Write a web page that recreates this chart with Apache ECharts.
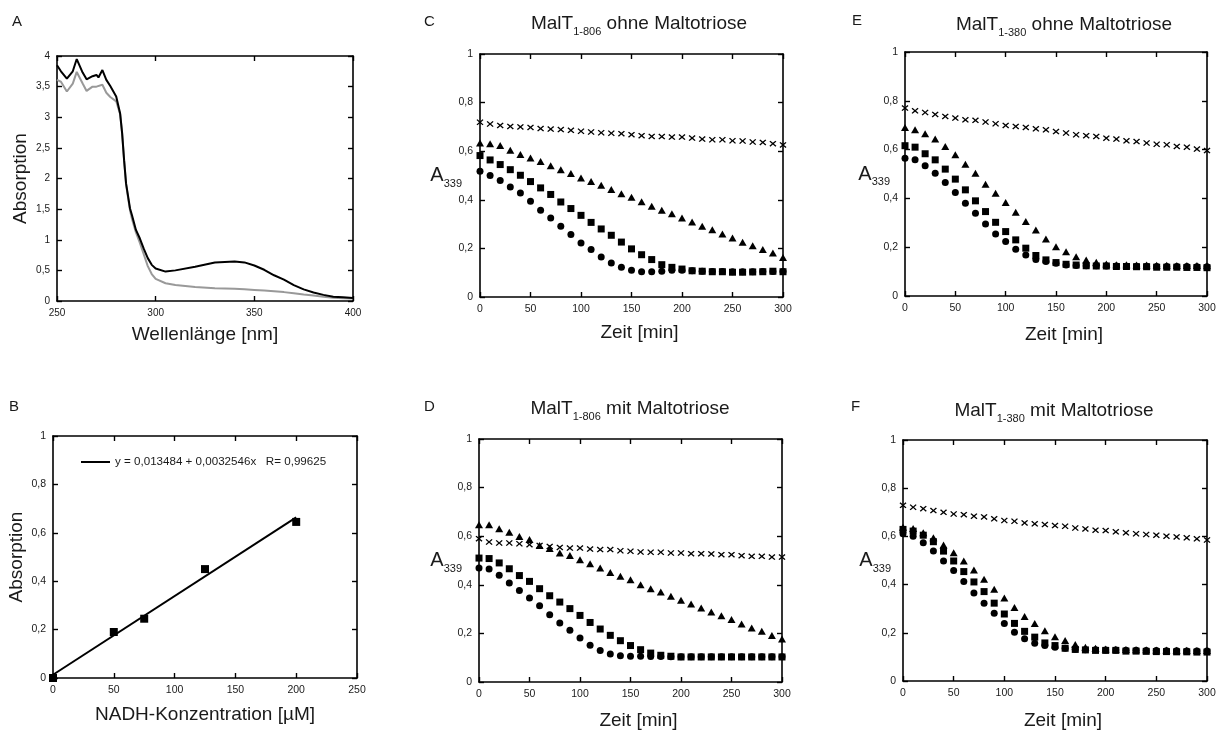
<!DOCTYPE html>
<html>
<head>
<meta charset="utf-8">
<script src="https://cdn.jsdelivr.net/npm/echarts@6/dist/echarts.min.js"></script>
<style>html,body{margin:0;padding:0;background:#fff}#c{width:1222px;height:731px}</style>
</head>
<body>
<div id="c"></div>
<script>
// ---------- Panel A: spectra ----------
const wavelengths = [250,252,255,258,260,263,265,268,270,271,273,275,277,280,282,283,284,285,287,288,290,292,294,296,298,300,305,310,320,330,340,345,350,355,360,365,370,375,380,385,390,395,400];
const absBlack = [3.85,3.75,3.63,3.75,3.95,3.73,3.62,3.67,3.69,3.65,3.77,3.61,3.51,3.34,3.06,2.74,2.30,1.92,1.51,1.40,1.16,1.02,0.85,0.70,0.59,0.53,0.48,0.50,0.56,0.63,0.645,0.63,0.58,0.51,0.42,0.35,0.26,0.19,0.14,0.10,0.07,0.06,0.05];
const absGray  = [3.61,3.58,3.42,3.55,3.74,3.55,3.43,3.50,3.50,3.49,3.53,3.40,3.33,3.26,3.05,2.74,2.30,1.90,1.48,1.34,1.12,0.95,0.76,0.57,0.44,0.36,0.29,0.26,0.23,0.21,0.20,0.19,0.18,0.17,0.16,0.145,0.125,0.105,0.09,0.07,0.055,0.045,0.04];

// ---------- Panel B: calibration ----------
const nadhConc = [0,50,75,125,200];
const nadhAbs  = [0,0.19,0.245,0.45,0.645];
const fitX = [0,200];
const fitY = [0.0135,0.664];
const fitLabel = 'y = 0,013484 + 0,0032546x   R= 0,99625';

// ---------- Panels C-F: time courses ----------
const times = [0,10,20,30,40,50,60,70,80,90,100,110,120,130,140,150,160,170,180,190,200,210,220,230,240,250,260,270,280,290,300];

const C_cross = [0.719,0.712,0.706,0.702,0.700,0.698,0.693,0.691,0.689,0.686,0.682,0.679,0.676,0.674,0.672,0.668,0.664,0.661,0.660,0.658,0.658,0.654,0.650,0.647,0.647,0.643,0.642,0.638,0.636,0.631,0.626];
const C_tri   = [0.634,0.631,0.623,0.604,0.586,0.572,0.558,0.540,0.524,0.508,0.490,0.475,0.460,0.442,0.425,0.410,0.392,0.373,0.357,0.343,0.325,0.309,0.291,0.277,0.259,0.243,0.225,0.211,0.195,0.181,0.163];
const C_sq    = [0.582,0.564,0.545,0.524,0.501,0.475,0.449,0.422,0.391,0.364,0.336,0.307,0.280,0.254,0.226,0.198,0.174,0.154,0.133,0.122,0.115,0.108,0.106,0.104,0.104,0.102,0.102,0.103,0.104,0.106,0.104];
const C_circ  = [0.517,0.500,0.479,0.453,0.428,0.394,0.357,0.325,0.291,0.257,0.222,0.195,0.165,0.140,0.122,0.110,0.104,0.104,0.106,0.110,0.110,0.108,0.106,0.105,0.105,0.104,0.104,0.104,0.105,0.105,0.105];

const D_cross = [0.590,0.576,0.572,0.572,0.569,0.565,0.562,0.558,0.554,0.551,0.551,0.547,0.545,0.545,0.540,0.538,0.535,0.534,0.534,0.531,0.531,0.528,0.528,0.527,0.524,0.524,0.520,0.517,0.517,0.514,0.514];
const D_tri   = [0.647,0.647,0.631,0.616,0.599,0.586,0.562,0.549,0.531,0.521,0.503,0.487,0.469,0.451,0.435,0.421,0.400,0.384,0.370,0.353,0.336,0.321,0.305,0.288,0.273,0.257,0.239,0.222,0.209,0.191,0.177];
const D_sq    = [0.510,0.508,0.490,0.466,0.438,0.414,0.384,0.355,0.329,0.302,0.274,0.245,0.218,0.192,0.170,0.150,0.133,0.119,0.110,0.106,0.103,0.103,0.103,0.103,0.103,0.103,0.103,0.103,0.103,0.103,0.103];
const D_circ  = [0.469,0.465,0.439,0.407,0.377,0.346,0.314,0.277,0.243,0.213,0.181,0.151,0.130,0.115,0.108,0.106,0.106,0.105,0.105,0.104,0.104,0.104,0.104,0.104,0.104,0.104,0.104,0.104,0.104,0.104,0.104];

const E_cross = [0.770,0.759,0.752,0.744,0.736,0.729,0.722,0.720,0.713,0.706,0.699,0.695,0.691,0.685,0.681,0.674,0.668,0.661,0.657,0.654,0.647,0.643,0.636,0.633,0.627,0.622,0.620,0.613,0.610,0.602,0.596];
const E_tri   = [0.691,0.681,0.665,0.643,0.613,0.579,0.540,0.503,0.458,0.421,0.383,0.343,0.305,0.271,0.234,0.202,0.181,0.161,0.148,0.138,0.131,0.128,0.128,0.127,0.127,0.126,0.126,0.125,0.125,0.125,0.124];
const E_sq    = [0.616,0.610,0.583,0.558,0.520,0.479,0.435,0.390,0.346,0.302,0.264,0.230,0.196,0.166,0.148,0.137,0.130,0.127,0.124,0.123,0.123,0.121,0.121,0.120,0.120,0.118,0.118,0.118,0.117,0.117,0.116];
const E_circ  = [0.565,0.558,0.534,0.503,0.465,0.424,0.380,0.339,0.295,0.254,0.223,0.192,0.168,0.150,0.141,0.134,0.127,0.125,0.124,0.124,0.123,0.123,0.122,0.122,0.122,0.121,0.121,0.121,0.121,0.120,0.120];

const F_cross = [0.729,0.721,0.715,0.707,0.700,0.693,0.690,0.684,0.681,0.673,0.666,0.663,0.656,0.652,0.649,0.645,0.642,0.635,0.631,0.626,0.624,0.619,0.615,0.611,0.608,0.605,0.601,0.598,0.594,0.590,0.585];
const F_tri   = [0.638,0.633,0.615,0.594,0.564,0.532,0.498,0.461,0.422,0.381,0.344,0.305,0.268,0.239,0.209,0.184,0.168,0.151,0.140,0.136,0.133,0.132,0.131,0.130,0.130,0.129,0.129,0.128,0.128,0.127,0.127];
const F_sq    = [0.629,0.622,0.605,0.578,0.539,0.498,0.454,0.411,0.371,0.323,0.278,0.239,0.206,0.182,0.158,0.147,0.136,0.131,0.129,0.127,0.127,0.127,0.124,0.124,0.123,0.122,0.122,0.121,0.121,0.120,0.120];
const F_circ  = [0.611,0.601,0.574,0.539,0.498,0.459,0.413,0.365,0.323,0.281,0.239,0.202,0.175,0.157,0.147,0.140,0.136,0.132,0.130,0.130,0.129,0.129,0.128,0.128,0.127,0.127,0.126,0.126,0.125,0.125,0.125];

const panelLetters = ['A','B','C','D','E','F'];
const panelTitles = [null, null,
  ['MalT','1-806',' ohne Maltotriose'],
  ['MalT','1-806',' mit Maltotriose'],
  ['MalT','1-380',' ohne Maltotriose'],
  ['MalT','1-380',' mit Maltotriose']];

// ---------- build ----------
const FONT = '"Liberation Sans", Arial, Helvetica, sans-serif';
const INK = '#1a1a1a';
const chart = echarts.init(document.getElementById('c'), null, {renderer:'canvas'});

const grids = [
  {left:57, top:56, width:296, height:245},   // A
  {left:53, top:436, width:304, height:242},  // B
  {left:480, top:54, width:303, height:243},  // C
  {left:479, top:439, width:303, height:243}, // D
  {left:905, top:52, width:302, height:244},  // E
  {left:903, top:440, width:304, height:242}  // F
];

const xAxes = [], yAxes = [];
const comma = v => String(Math.round(v*10)/10).replace('.', ',');
function addAxes(g, xr, yr, xname, xgap, yname, ygap, yRich, labelSize) {
  const line = {show:true, onZero:false, lineStyle:{color:'#000', width:1.6}};
  const tick = {show:true, inside:true, length:5, lineStyle:{color:'#000', width:1.4}};
  xAxes.push({gridIndex:g, type:'value', position:'bottom', min:xr[0], max:xr[1], interval:xr[2],
    axisLine:line, axisTick:tick, splitLine:{show:false},
    axisLabel:{fontSize:labelSize, color:INK, fontFamily:FONT, margin:7},
    name:xname, nameLocation:'middle', nameGap:xgap, nameMoveOverlap:false,
    nameTextStyle:{fontSize:19, color:INK, fontFamily:FONT, padding: g>=2 ? [0,0,0,16] : [0,0,0,0]}});
  xAxes.push({gridIndex:g, type:'value', position:'top', min:xr[0], max:xr[1], interval:xr[2],
    axisLine:line, axisTick:tick, splitLine:{show:false}, axisLabel:{show:false}});
  const yl = {gridIndex:g, type:'value', position:'left', min:yr[0], max:yr[1], interval:yr[2],
    axisLine:line, axisTick:tick, splitLine:{show:false},
    axisLabel:{fontSize:labelSize, color:INK, fontFamily:FONT, margin:7, formatter:comma},
    name:yname, nameLocation:'middle', nameGap:ygap, nameMoveOverlap:false};
  if (yRich) {
    yl.nameRotate = 0;
    yl.nameTextStyle = {color:INK, fontFamily:FONT, rich:{
      a:{fontSize:20, color:INK, fontFamily:FONT},
      s:{fontSize:11, color:INK, fontFamily:FONT, padding:[16,0,0,0]}}};
  } else {
    yl.nameTextStyle = {fontSize:19, color:INK, fontFamily:FONT};
  }
  yAxes.push(yl);
  yAxes.push({gridIndex:g, type:'value', position:'right', min:yr[0], max:yr[1], interval:yr[2],
    axisLine:line, axisTick:tick, splitLine:{show:false}, axisLabel:{show:false}});
}
addAxes(0, [250,400,50], [0,4,0.5], 'Wellenlänge [nm]', 24, 'Absorption', 27, false, 10);
addAxes(1, [0,250,50], [0,1,0.2], 'NADH-Konzentration [µM]', 27, 'Absorption', 27, false, 10.5);
const a339 = '{a|A}{s|339}';
addAxes(2, [0,300,50], [0,1,0.2], 'Zeit [min]', 26, a339, 18, true, 10.5);
addAxes(3, [0,300,50], [0,1,0.2], 'Zeit [min]', 29, a339, 17, true, 10.5);
addAxes(4, [0,300,50], [0,1,0.2], 'Zeit [min]', 29, a339, 15, true, 10.5);
addAxes(5, [0,300,50], [0,1,0.2], 'Zeit [min]', 30, a339, 12, true, 10.5);

const pair = (xs, ys) => xs.map((x,i) => [x, ys[i]]);
const CROSS = 'path://M0,1.4L1.4,0L5,3.6L8.6,0L10,1.4L6.4,5L10,8.6L8.6,10L5,6.4L1.4,10L0,8.6L3.6,5Z';
const MARK = {color:'#000', opacity:1};
const series = [];
series.push({type:'line', xAxisIndex:0, yAxisIndex:0, data:pair(wavelengths, absGray), symbol:'none',
  lineStyle:{color:'#999', width:2}, silent:true});
series.push({type:'line', xAxisIndex:0, yAxisIndex:0, data:pair(wavelengths, absBlack), symbol:'none',
  lineStyle:{color:'#000', width:2}, silent:true});
series.push({type:'line', name:fitLabel, xAxisIndex:2, yAxisIndex:2, data:pair(fitX, fitY), symbol:'none',
  lineStyle:{color:'#000', width:2}, itemStyle:{color:'#000'}, silent:true});
series.push({type:'scatter', xAxisIndex:2, yAxisIndex:2, data:pair(nadhConc, nadhAbs), symbol:'rect',
  symbolSize:8, itemStyle:MARK, silent:true});

function timePanel(g, circ, sq, tri, cross) {
  const ax = 2*g;
  const base = {type:'scatter', xAxisIndex:ax, yAxisIndex:ax, silent:true, itemStyle:MARK};
  series.push(Object.assign({}, base, {data:pair(times, circ), symbol:'circle', symbolSize:7}));
  series.push(Object.assign({}, base, {data:pair(times, sq), symbol:'rect', symbolSize:7}));
  series.push(Object.assign({}, base, {data:pair(times, tri), symbol:'triangle', symbolSize:[8,7]}));
  series.push(Object.assign({}, base, {data:pair(times, cross), symbol:CROSS, symbolSize:[7,6]}));
}
timePanel(2, C_circ, C_sq, C_tri, C_cross);
timePanel(3, D_circ, D_sq, D_tri, D_cross);
timePanel(4, E_circ, E_sq, E_tri, E_cross);
timePanel(5, F_circ, F_sq, F_tri, F_cross);

// letters and titles
const letterPos = [[12,22],[9,407],[424,22],[424,407],[852,21],[851,407]];
const titlePos = [null, null, [639,24], [630,409], [1064,25], [1054,411]];
const graphics = [];
panelLetters.forEach((L,i) => {
  graphics.push({type:'text', x:letterPos[i][0], y:letterPos[i][1],
    style:{text:L, fontSize:15, fontFamily:FONT, fill:INK, align:'left', verticalAlign:'middle'}});
  const t = panelTitles[i];
  if (t) {
    graphics.push({type:'text', x:titlePos[i][0], y:titlePos[i][1],
      style:{text:'{m|'+t[0]+'}{s|'+t[1]+'}{m|'+t[2]+'}', align:'center', verticalAlign:'middle',
        rich:{m:{fontSize:19, fontFamily:FONT, fill:INK}, s:{fontSize:11, fontFamily:FONT, fill:INK, padding:[16,0,0,0]}}}});
  }
});

chart.setOption({
  animation:false,
  backgroundColor:'#fff',
  grid:grids,
  xAxis:xAxes,
  yAxis:yAxes,
  legend:{data:[{name:fitLabel, icon:'rect'}], left:81, top:456, padding:0, selectedMode:false, itemWidth:29, itemHeight:2, itemGap:4,
    itemStyle:{color:'#000'}, textStyle:{fontSize:11.6, color:INK, fontFamily:FONT}},
  series:series,
  graphic:graphics
});
</script>
</body>
</html>
